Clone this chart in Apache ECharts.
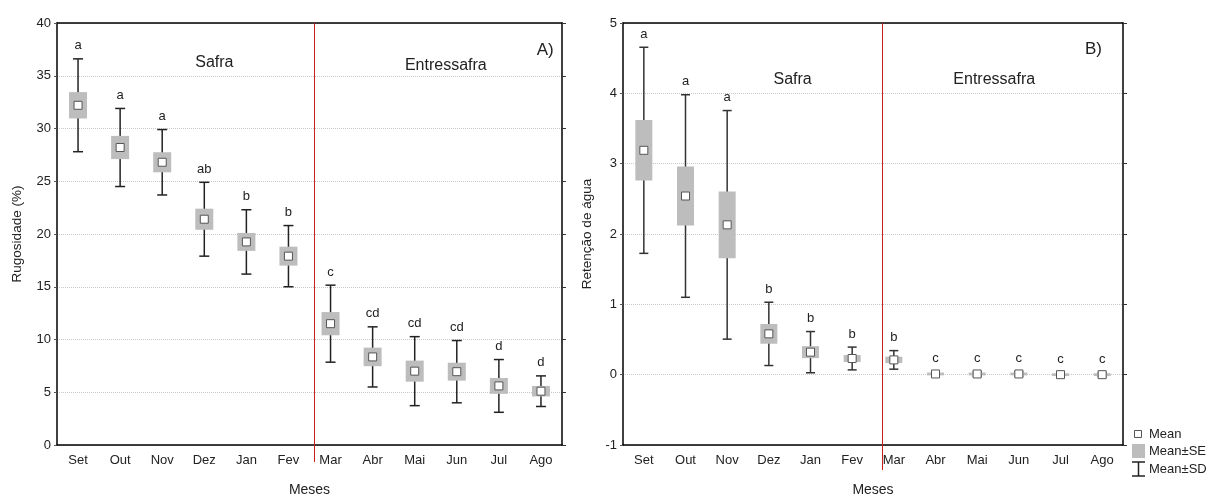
<!DOCTYPE html>
<html><head><meta charset="utf-8">
<script src="https://cdn.jsdelivr.net/npm/echarts@6/dist/echarts.min.js"></script>
<style>html,body{margin:0;padding:0;background:#fff}#c{width:1213px;height:495px}</style>
</head><body><div id="c"></div>
<script>
const months = ['Set','Out','Nov','Dez','Jan','Fev','Mar','Abr','Mai','Jun','Jul','Ago'];
const rugMean = [32.2, 28.2, 26.8, 21.4, 19.25, 17.9, 11.5, 8.35, 7.0, 6.95, 5.6, 5.1];
const rugSE = [1.25, 1.1, 0.95, 1.0, 0.85, 0.9, 1.1, 0.88, 1.0, 0.85, 0.75, 0.5];
const rugSD = [4.4, 3.7, 3.1, 3.5, 3.05, 2.9, 3.65, 2.85, 3.27, 2.95, 2.5, 1.45];
const rugLetters = ['a','a','a','ab','b','b','c','cd','cd','cd','d','d'];
const retMean = [3.19, 2.54, 2.13, 0.58, 0.32, 0.23, 0.21, 0.01, 0.01, 0.01, 0.0, 0.0];
const retSE = [0.43, 0.42, 0.475, 0.14, 0.085, 0.05, 0.045, 0.02, 0.02, 0.02, 0.02, 0.02];
const retSD = [1.465, 1.44, 1.625, 0.45, 0.293, 0.162, 0.132, 0.03, 0.03, 0.03, 0.03, 0.03];
const retLetters = ['a','a','a','b','b','b','b','c','c','c','c','c'];
const periods = ['Safra', 'Entressafra'];
const panelTags = ['A)', 'B)'];
const yTitles = ['Rugosidade (%)', 'Retenção de água'];
const xTitle = 'Meses';
const legendNames = ['Mean', 'Mean±SE', 'Mean±SD'];

const FONT = '"Liberation Sans", Arial, sans-serif';
const chart = echarts.init(document.getElementById('c'));

function makeRender(letters, boxW, capW, whiskerColor) {
  return function (params, api) {
    const i = api.value(0), m = api.value(1), se = api.value(2), sd = api.value(3);
    const c = api.coord([i, m]);
    const x = c[0];
    const sdT = api.coord([i, m + sd])[1], sdB = api.coord([i, m - sd])[1];
    const seT = api.coord([i, m + se])[1], seB = api.coord([i, m - se])[1];
    const ws = { stroke: whiskerColor, lineWidth: 1.5 };
    return { type: 'group', children: [
      { type: 'line', shape: { x1: x, y1: sdT, x2: x, y2: sdB }, style: ws },
      { type: 'line', shape: { x1: x - capW / 2, y1: sdT, x2: x + capW / 2, y2: sdT }, style: ws },
      { type: 'line', shape: { x1: x - capW / 2, y1: sdB, x2: x + capW / 2, y2: sdB }, style: ws },
      { type: 'rect', shape: { x: x - boxW / 2, y: seT, width: boxW, height: Math.max(seB - seT, 2.5) }, style: { fill: '#bdbdbd' } },
      { type: 'rect', shape: { x: x - 4, y: c[1] - 4, width: 8, height: 8 }, style: { fill: '#fff', stroke: '#555', lineWidth: 1 } },
      { type: 'text', style: { text: letters[params.dataIndex], x: x, y: sdT - 13, align: 'center', verticalAlign: 'middle', fontSize: 13, fill: '#222', fontFamily: FONT } }
    ]};
  };
}

function xAxes(gridIndex) {
  return [
    { type: 'category', gridIndex, data: months, boundaryGap: true, position: 'bottom',
      axisLine: { onZero: false, lineStyle: { color: '#000', width: 1.5 } },
      axisTick: { alignWithLabel: true, inside: true, length: 3, lineStyle: { color: '#777' } },
      axisLabel: { color: '#222', fontSize: 13, margin: 9, fontFamily: FONT },
      name: xTitle, nameLocation: 'middle', nameGap: 38,
      nameTextStyle: { color: '#222', fontSize: 14, fontFamily: FONT } },
    { type: 'category', gridIndex, data: months, boundaryGap: true, position: 'top',
      axisLine: { onZero: false, lineStyle: { color: '#000', width: 1.5 } },
      axisTick: { alignWithLabel: true, inside: true, length: 3, lineStyle: { color: '#777' } },
      axisLabel: { show: false } }
  ];
}
function yAxes(gridIndex, min, max, interval, title, gap) {
  return [
    { type: 'value', gridIndex, min, max, interval, position: 'left',
      axisLine: { show: true, onZero: false, lineStyle: { color: '#000', width: 1.5 } },
      axisTick: { show: true, length: 3, lineStyle: { color: '#555' } },
      axisLabel: { color: '#222', fontSize: 13, margin: 6, fontFamily: FONT },
      splitLine: { show: true, lineStyle: { color: '#c8c8c8', type: 'dotted', width: 1 } },
      name: title, nameLocation: 'middle', nameGap: gap,
      nameTextStyle: { color: '#222', fontSize: 13.5, fontFamily: FONT } },
    { type: 'value', gridIndex, min, max, interval, position: 'right',
      axisLine: { show: true, onZero: false, lineStyle: { color: '#000', width: 1.5 } },
      axisTick: { show: true, length: 4, lineStyle: { color: '#333' } },
      axisLabel: { show: false }, splitLine: { show: false } }
  ];
}

const option = {
  animation: false,
  backgroundColor: '#fff',
  grid: [
    { left: 57, top: 23, width: 505, height: 422, containLabel: false, outerBoundsMode: 'none' },
    { left: 623, top: 23, width: 500, height: 422, containLabel: false, outerBoundsMode: 'none' }
  ],
  xAxis: [...xAxes(0), ...xAxes(1)],
  yAxis: [...yAxes(0, 0, 40, 5, yTitles[0], 33), ...yAxes(1, -1, 5, 1, yTitles[1], 29)],
  series: [
    { type: 'custom', xAxisIndex: 0, yAxisIndex: 0, clip: false,
      renderItem: makeRender(rugLetters, 18, 10, '#222'),
      data: months.map((m, i) => [i, rugMean[i], rugSE[i], rugSD[i]]) },
    { type: 'custom', xAxisIndex: 2, yAxisIndex: 2, clip: false,
      renderItem: makeRender(retLetters, 17, 9, '#333'),
      data: months.map((m, i) => [i, retMean[i], retSE[i], retSD[i]]) }
  ]
};
chart.setOption(option);

function px(axisIdx, f) {
  const i0 = Math.floor(f);
  const a = chart.convertToPixel({ xAxisIndex: axisIdx }, i0);
  const b = chart.convertToPixel({ xAxisIndex: axisIdx }, i0 + 1);
  return a + (b - a) * (f - i0);
}
function py(axisIdx, v) { return chart.convertToPixel({ yAxisIndex: axisIdx }, v); }

const dividers = [5.6, 5.72];
const annot = [
  { ax: 0, ay: 0, items: [[periods[0], 3.24, 36.2, 16], [periods[1], 8.74, 36.0, 16], [panelTags[0], 11.1, 37.4, 17]] },
  { ax: 2, ay: 2, items: [[periods[0], 3.57, 4.2, 16], [periods[1], 8.41, 4.2, 16], [panelTags[1], 10.79, 4.63, 17]] }
];
const g = [];
[[0, 0, 40], [2, 2, 5]].forEach((d, k) => {
  const x = Math.round(px(d[0], dividers[k])) + 0.5;
  const yTop = py(d[1], d[2]);
  g.push({ type: 'line', shape: { x1: x, y1: yTop, x2: x, y2: yTop + 439 + (k ? 8 : 0) }, style: { stroke: '#c81e1e', lineWidth: 1 }, z: 10 });
});
annot.forEach(a => a.items.forEach(t => {
  g.push({ type: 'text', x: px(a.ax, t[1]), y: py(a.ay, t[2]), style: { text: t[0], fontSize: t[3], fill: '#222', fontFamily: FONT, align: 'center', verticalAlign: 'middle' }, z: 10 });
}));
// legend
g.push({ type: 'rect', shape: { x: 1134.5, y: 430.5, width: 7, height: 7 }, style: { fill: '#fff', stroke: '#555', lineWidth: 1 } });
g.push({ type: 'rect', shape: { x: 1132, y: 444, width: 13, height: 14 }, style: { fill: '#bdbdbd' } });
g.push({ type: 'line', shape: { x1: 1138.5, y1: 462, x2: 1138.5, y2: 476 }, style: { stroke: '#222', lineWidth: 1.5 } });
g.push({ type: 'line', shape: { x1: 1132, y1: 462, x2: 1145, y2: 462 }, style: { stroke: '#222', lineWidth: 1.5 } });
g.push({ type: 'line', shape: { x1: 1132, y1: 476, x2: 1145, y2: 476 }, style: { stroke: '#222', lineWidth: 1.5 } });
[[legendNames[0], 434], [legendNames[1], 451.5], [legendNames[2], 469]].forEach(t => {
  g.push({ type: 'text', x: 1149, y: t[1], style: { text: t[0], fontSize: 13, fill: '#222', fontFamily: FONT, align: 'left', verticalAlign: 'middle' } });
});
chart.setOption({ graphic: g });
</script>
</body></html>
